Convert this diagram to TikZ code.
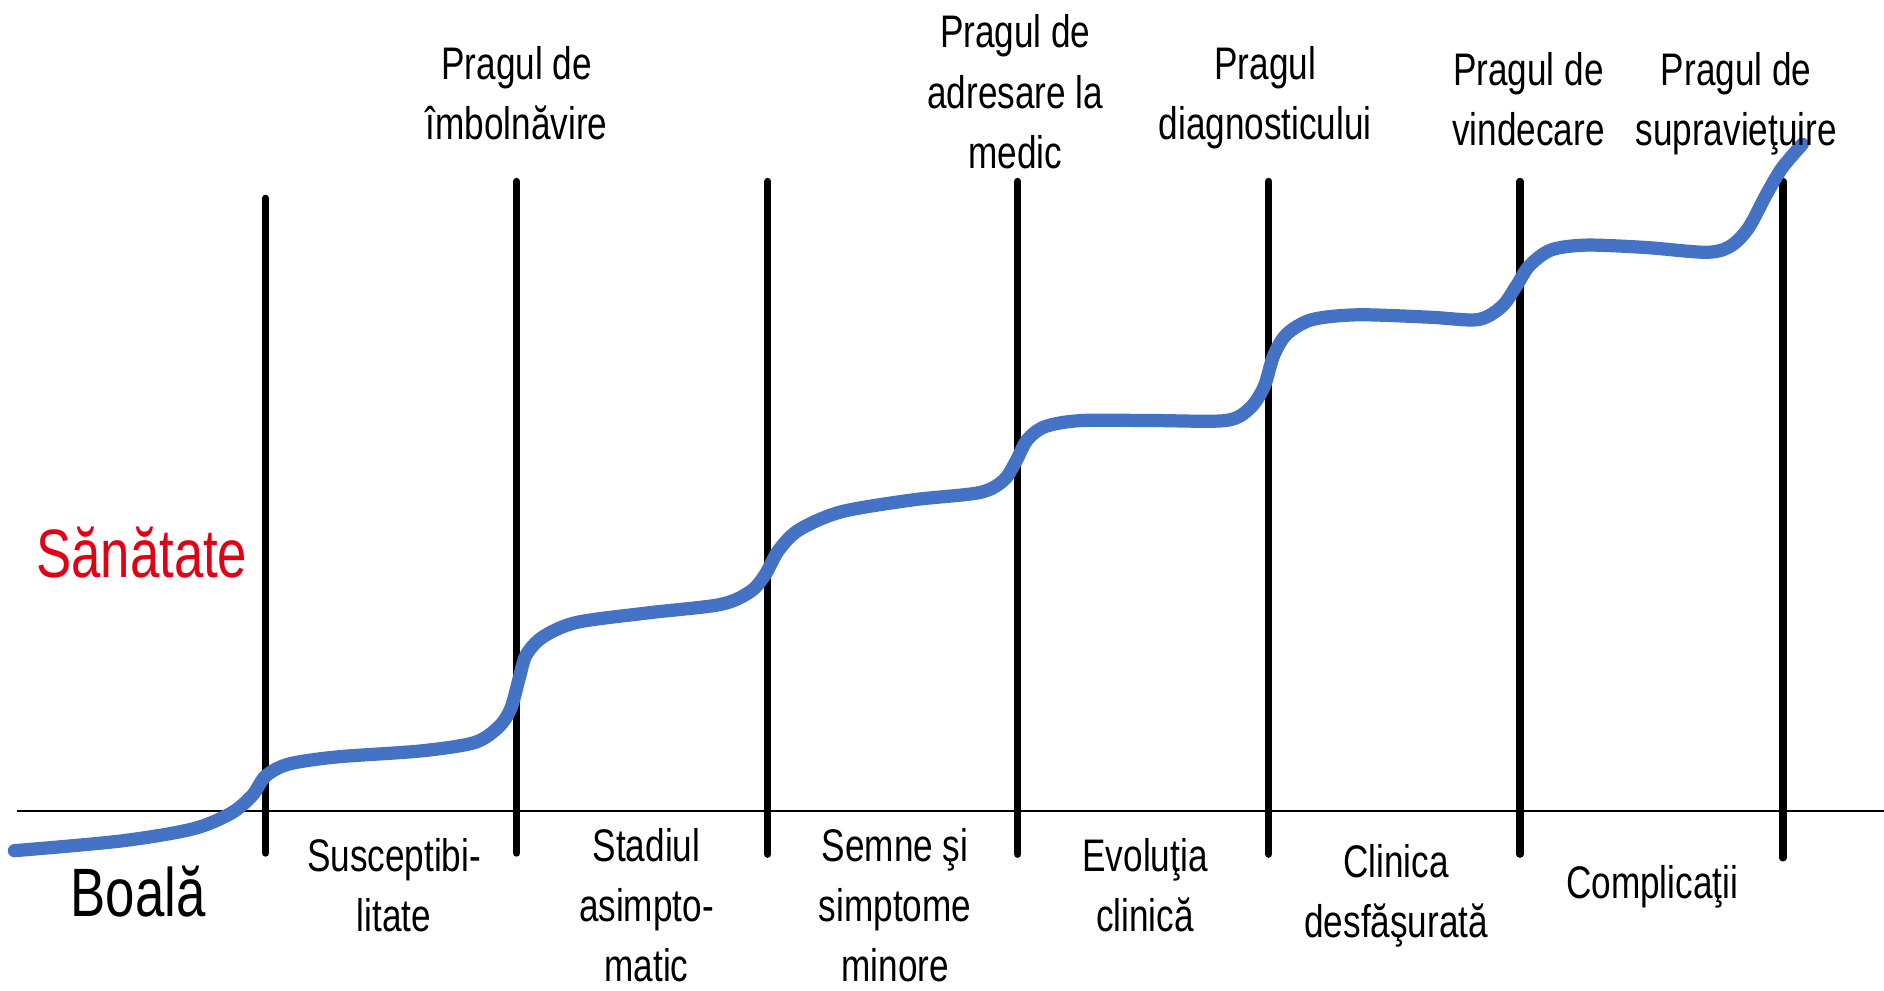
\documentclass[tikz,border=0pt]{standalone}
\usepackage{fontspec}
\setmainfont[FakeStretch=0.77]{Liberation Sans}
\definecolor{curveblue}{RGB}{68,114,196}
\definecolor{healthred}{RGB}{226,0,20}
\tikzset{
  thr/.style={line width=3pt, line cap=round, black},
  axisline/.style={line width=1pt, black},
  lbl/.style={font=\fontsize{19}{25}\selectfont, align=center, anchor=north, inner sep=0pt},
  big/.style={font=\fontsize{28.5}{34}\selectfont, inner sep=0pt},
  curve/.style={line width=5.5pt, curveblue, line cap=round, line join=round}
}
\begin{document}
\begin{tikzpicture}[x=0.5pt, y=-0.5pt]
\useasboundingbox (0,0) rectangle (1568,824);
% axis
\coordinate (a0) at (14,675);
\coordinate (a1) at (1568,675);
\draw[axisline] (a0) -- (a1);
% threshold lines
\coordinate (t1) at (221,165);  \coordinate (b1) at (221,710);
\coordinate (t2) at (430,151);  \coordinate (b2) at (430,710);
\coordinate (t3) at (639,151);  \coordinate (b3) at (639,711);
\coordinate (t4) at (847,151);  \coordinate (b4) at (847,711);
\coordinate (t5) at (1056,151); \coordinate (b5) at (1056,711);
\coordinate (t6) at (1265,151); \coordinate (b6) at (1265,711);
\coordinate (t7) at (1484,151); \coordinate (b7) at (1484,714);
\draw[thr] (t1) -- (b1);
\draw[thr] (t2) -- (b2);
\draw[thr] (t3) -- (b3);
\draw[thr] (t4) -- (b4);
\draw[thr] (t5) -- (b5);
\draw[thr] (t6) -- (b6);
\draw[thr] (t7) -- (b7);
% curve
\draw[curve] plot[smooth, tension=0.5] coordinates {
 (12,708) (100,700) (160,690) (192,677) (210,662) (221,646)
 (240,636) (280,630) (350,625) (395,618) (415,605) (425,590)
 (432,565) (438,545) (452,530) (480,518) (540,510) (600,503)
 (625,492) (637,478) (648,458) (665,441) (700,426) (760,416)
 (815,410) (835,400) (845,385) (855,366) (870,355) (900,350)
 (960,350) (1020,350) (1040,340) (1052,322) (1060,296) (1071,278)
 (1092,266) (1130,262) (1190,264) (1230,266) (1250,255) (1262,238)
 (1273,221) (1291,208) (1320,204) (1370,206) (1420,210) (1440,205)
 (1455,190) (1470,162) (1483,140) (1500,120)};
% top labels
\node[lbl] (p2) at (430,38) {Pragul de\\îmbolnăvire};
\node[lbl] (p4) at (845,12) {Pragul de\\adresare la\\medic};
\node[lbl] (p5) at (1053,38) {Pragul\\diagnosticului};
\node[lbl] (p6) at (1272,43) {Pragul de\\vindecare};
\node[lbl] (p7) at (1445,43) {Pragul de\\supravieţuire};
% bottom labels
\node[lbl] (s1) at (328,697) {Susceptibi-\\litate};
\node[lbl] (s2) at (538,689) {Stadiul\\asimpto-\\matic};
\node[lbl] (s3) at (745,689) {Semne şi\\simptome\\minore};
\node[lbl] (s4) at (953,697) {Evoluţia\\clinică};
\node[lbl] (s5) at (1162,702) {Clinica\\desfăşurată};
\node[lbl] (s6) at (1375,720) {Complicaţii};
% side labels
\node[big, text=healthred] (san) at (118,460) {Sănătate};
\node[big] (boala) at (115,742) {Boală};
\end{tikzpicture}
\end{document}
